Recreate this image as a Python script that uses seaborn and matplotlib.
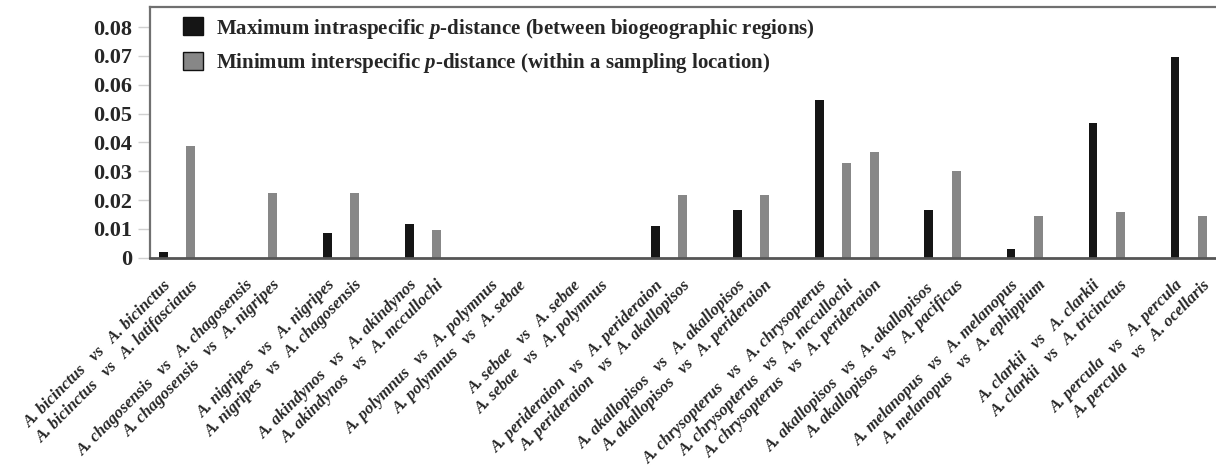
import matplotlib
matplotlib.use("Agg")
import matplotlib.pyplot as plt
import seaborn as sns
import pandas as pd
import numpy as np

sns.set_style("white")
plt.rcParams["font.family"] = ["Liberation Serif", "DejaVu Serif"]
plt.rcParams["mathtext.fontset"] = "custom"
plt.rcParams["mathtext.it"] = "Liberation Serif:bold:italic"
plt.rcParams["mathtext.rm"] = "Liberation Serif:bold"

# ---- data ----
pairs = [
    "A. bicinctus   vs   A. bicinctus",
    "A. bicinctus   vs   A. latifasciatus",
    "A. chagosensis   vs   A. chagosensis",
    "A. chagosensis   vs   A. nigripes",
    "A. nigripes   vs   A. nigripes",
    "A. nigripes   vs   A. chagosensis",
    "A. akindynos   vs   A. akindynos",
    "A. akindynos   vs   A. mccullochi",
    "A. polymnus   vs   A. polymnus",
    "A. polymnus   vs   A. sebae",
    "A. sebae   vs   A. sebae",
    "A. sebae   vs   A. polymnus",
    "A. perideraion   vs   A. perideraion",
    "A. perideraion   vs   A. akallopisos",
    "A. akallopisos   vs   A. akallopisos",
    "A. akallopisos   vs   A. perideraion",
    "A. chrysopterus   vs   A. chrysopterus",
    "A. chrysopterus   vs   A. mccullochi",
    "A. chrysopterus   vs   A. perideraion",
    "A. akallopisos   vs   A. akallopisos ",
    "A. akallopisos   vs   A. pacificus",
    "A. melanopus   vs   A. melanopus",
    "A. melanopus   vs   A. ephippium",
    "A. clarkii   vs   A. clarkii",
    "A. clarkii   vs   A. tricinctus",
    "A. percula   vs   A. percula",
    "A. percula   vs   A. ocellaris",
]
group = [0, 0, 1, 1, 2, 2, 3, 3, 4, 4, 5, 5, 6, 6, 7, 7, 8, 8, 8,
         9, 9, 10, 10, 11, 11, 12, 12]
MAX_LBL = "Maximum intraspecific $p$-distance (between biogeographic regions)"
MIN_LBL = "Minimum interspecific $p$-distance (within a sampling location)"
series = ["max", "min", "max", "min", "max", "min", "max", "min",
          "max", "min", "max", "min", "max", "min", "max", "min",
          "max", "min", "min", "max", "min", "max", "min", "max", "min",
          "max", "min"]
values = [0.0019, 0.0389, 0.0, 0.0224, 0.0085, 0.0224, 0.0117, 0.0097,
          0.0, 0.0, 0.0, 0.0, 0.0111, 0.0218, 0.0165, 0.0218,
          0.0548, 0.0329, 0.0367, 0.0165, 0.0300, 0.0030, 0.0146,
          0.0468, 0.0158, 0.0696, 0.0145]
yticks = [0, 0.01, 0.02, 0.03, 0.04, 0.05, 0.06, 0.07, 0.08]
ytick_labels = ["0", "0.01", "0.02", "0.03", "0.04", "0.05", "0.06", "0.07", "0.08"]

df = pd.DataFrame({
    "pair": pairs,
    "value": values,
    "series": [MAX_LBL if s == "max" else MIN_LBL for s in series],
})

# category order with an empty slot between groups
order = []
for i, (p, g) in enumerate(zip(pairs, group)):
    if i > 0 and g != group[i - 1]:
        order.append(f"__gap{g}")
    order.append(p)

fig = plt.figure(figsize=(12.16, 4.70), dpi=100)
ax = fig.add_axes([150 / 1216, (470 - 257.7) / 470, (1216 - 150) / 1216, (257.7 - 7) / 470])

sns.barplot(data=df, x="pair", y="value", hue="series", order=order,
            hue_order=[MAX_LBL, MIN_LBL],
            palette={MAX_LBL: "#151515", MIN_LBL: "#878787"},
            dodge=False, width=0.32, linewidth=0, edgecolor="none",
            ax=ax, legend=True)

ax.set_xlim(-0.48, len(order) - 0.5)
ax.set_ylim(0, 0.087)
ax.set_xlabel("")
ax.set_ylabel("")

ax.set_yticks(yticks)
ax.set_yticklabels(ytick_labels, fontsize=16, fontweight="bold")
ax.tick_params(axis="y", length=9, width=1.0, color="#d0d0d0", pad=4, left=True)

ax.set_xticks(range(len(order)))
ax.set_xticklabels(["" if o.startswith("__gap") else o for o in order],
                   rotation=45, ha="right", rotation_mode="anchor",
                   fontsize=12, fontweight="bold", fontstyle="italic")
ax.tick_params(axis="x", length=0, pad=14)

for side in ["top", "left"]:
    ax.spines[side].set_color("#707070")
    ax.spines[side].set_linewidth(1.6)
ax.spines["bottom"].set_color("#555555")
ax.spines["bottom"].set_linewidth(2.0)
ax.spines["right"].set_visible(False)

handles, labels = ax.get_legend_handles_labels()
for h in handles:
    h.set_edgecolor("#111111")
    h.set_linewidth(1.0)
leg = ax.legend(handles, labels, loc="upper left", bbox_to_anchor=(0.031, 0.962),
                frameon=False, borderpad=0, borderaxespad=0,
                handlelength=0.95, handleheight=0.95,
                handletextpad=0.65, labelspacing=0.5,
                prop={"family": "Liberation Serif", "weight": "bold", "size": 15})

fig.savefig("out.png", dpi=100)
